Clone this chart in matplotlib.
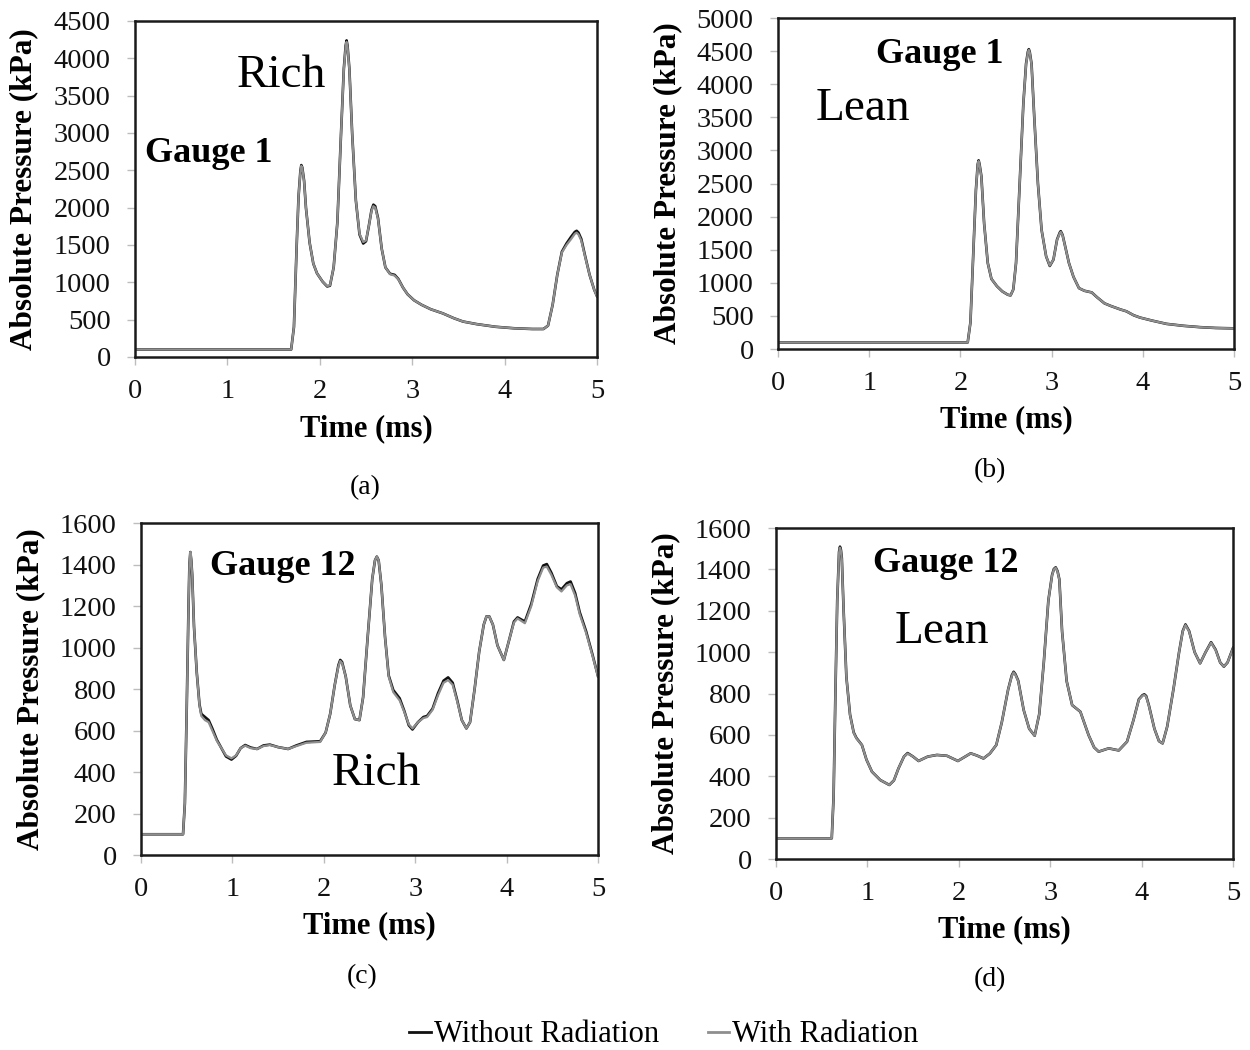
import matplotlib
matplotlib.use('Agg')
import matplotlib.pyplot as plt
from matplotlib.lines import Line2D

plt.rcParams['font.family'] = ['Liberation Serif', 'DejaVu Serif']

# Gauge 1, rich mixture
t_a = [0.00, 1.69, 1.72, 1.75, 1.77, 1.79, 1.80, 1.81, 1.83, 1.85, 1.89, 1.93, 1.97, 2.03,
       2.08, 2.11, 2.15, 2.19, 2.23, 2.26, 2.28, 2.29, 2.30, 2.32, 2.35, 2.39, 2.43, 2.47,
       2.50, 2.53, 2.56, 2.58, 2.60, 2.63, 2.67, 2.71, 2.76, 2.81, 2.85, 2.90, 2.95, 3.02,
       3.10, 3.20, 3.33, 3.45, 3.55, 3.70, 3.90, 4.10, 4.30, 4.42, 4.47, 4.52, 4.57, 4.62,
       4.67, 4.72, 4.76, 4.78, 4.80, 4.83, 4.87, 4.92, 4.97, 5.00]
p_a_with = [100, 100, 400, 1500, 2150, 2480, 2560, 2530, 2350, 2000, 1530, 1250, 1120, 1010,
            950, 960, 1200, 1800, 3000, 3850, 4150, 4220, 4150, 3850, 3000, 2100, 1650, 1540,
            1560, 1750, 1960, 2020, 2000, 1850, 1450, 1200, 1110, 1090, 1040, 930, 840, 760,
            700, 640, 585, 520, 475, 440, 405, 385, 375, 375, 420, 700, 1100, 1400,
            1500, 1580, 1650, 1665, 1640, 1560, 1350, 1100, 900, 810]
p_a_without = [100, 100, 400, 1500, 2150, 2490, 2570, 2540, 2360, 2000, 1530, 1250, 1120, 1010,
               945, 955, 1200, 1800, 3000, 3860, 4170, 4240, 4170, 3860, 3000, 2100, 1640, 1520,
               1550, 1750, 1970, 2040, 2020, 1860, 1450, 1200, 1115, 1100, 1045, 930, 840, 760,
               700, 640, 585, 520, 475, 440, 405, 385, 375, 375, 420, 700, 1100, 1410,
               1520, 1610, 1675, 1690, 1665, 1580, 1360, 1100, 900, 815]

# Gauge 1, lean mixture
t_b = [0.00, 2.08, 2.11, 2.14, 2.17, 2.19, 2.20, 2.21, 2.23, 2.26, 2.30, 2.34, 2.40, 2.46,
       2.52, 2.55, 2.58, 2.61, 2.65, 2.69, 2.72, 2.74, 2.75, 2.76, 2.78, 2.81, 2.85, 2.89,
       2.94, 2.98, 3.02, 3.06, 3.09, 3.10, 3.12, 3.14, 3.19, 3.24, 3.30, 3.36, 3.44, 3.50,
       3.58, 3.65, 3.75, 3.82, 3.90, 3.97, 4.10, 4.26, 4.45, 4.63, 4.80, 5.00]
p_b_with = [100, 100, 400, 1400, 2400, 2780, 2840, 2780, 2600, 1900, 1300, 1060, 950, 870,
            820, 810, 900, 1300, 2500, 3700, 4300, 4480, 4520, 4480, 4300, 3500, 2500, 1800,
            1400, 1260, 1350, 1650, 1750, 1770, 1720, 1600, 1300, 1090, 920, 880, 855, 780,
            690, 650, 600, 570, 510, 475, 430, 380, 350, 330, 318, 312]
p_b_without = [100, 100, 400, 1400, 2400, 2790, 2850, 2790, 2610, 1900, 1300, 1060, 950, 870,
               820, 810, 900, 1300, 2500, 3700, 4310, 4490, 4530, 4490, 4310, 3500, 2500, 1800,
               1400, 1255, 1350, 1655, 1760, 1780, 1725, 1605, 1300, 1090, 920, 880, 855, 780,
               690, 650, 600, 570, 510, 475, 430, 380, 350, 330, 318, 312]

# Gauge 12, rich mixture
t_c = [0.00, 0.46, 0.48, 0.50, 0.52, 0.53, 0.54, 0.55, 0.56, 0.58, 0.61, 0.64, 0.66, 0.70,
       0.74, 0.78, 0.83, 0.88, 0.93, 0.99, 1.04, 1.09, 1.14, 1.20, 1.27, 1.34, 1.41, 1.50,
       1.61, 1.70, 1.81, 1.96, 2.02, 2.07, 2.12, 2.16, 2.18, 2.20, 2.24, 2.29, 2.34, 2.39,
       2.43, 2.48, 2.53, 2.56, 2.58, 2.60, 2.63, 2.67, 2.71, 2.76, 2.83, 2.88, 2.93, 2.97,
       3.03, 3.09, 3.13, 3.19, 3.25, 3.31, 3.36, 3.41, 3.46, 3.51, 3.56, 3.60, 3.65, 3.70,
       3.75, 3.78, 3.81, 3.85, 3.90, 3.97, 4.03, 4.08, 4.12, 4.20, 4.27, 4.34, 4.40, 4.44,
       4.49, 4.55, 4.60, 4.66, 4.70, 4.75, 4.80, 4.87, 4.94, 5.00]
p_c_with = [100, 100, 250, 700, 1200, 1400, 1460, 1420, 1350, 1100, 880, 720, 670, 650,
            640, 600, 550, 515, 480, 466, 480, 515, 527, 515, 511, 525, 530, 520,
            511, 525, 541, 545, 590, 680, 820, 910, 935, 925, 860, 720, 655, 650,
            760, 1050, 1330, 1420, 1438, 1420, 1300, 1050, 860, 785, 745, 690, 630, 610,
            640, 660, 665, 700, 770, 830, 843, 820, 740, 650, 610, 640, 800, 980,
            1110, 1150, 1150, 1110, 1010, 940, 1040, 1120, 1140, 1117, 1200, 1320, 1385, 1390,
            1350, 1290, 1270, 1300, 1305, 1250, 1160, 1070, 960, 860]
p_c_without = [100, 100, 250, 700, 1200, 1400, 1460, 1420, 1350, 1100, 880, 725, 680, 665,
               650, 610, 555, 515, 475, 460, 478, 515, 530, 518, 511, 528, 532, 520,
               511, 528, 545, 548, 590, 680, 820, 915, 940, 930, 860, 720, 655, 650,
               760, 1050, 1330, 1420, 1438, 1420, 1300, 1050, 865, 795, 755, 695, 625, 605,
               640, 665, 670, 705, 780, 840, 856, 830, 745, 650, 610, 640, 800, 980,
               1110, 1150, 1150, 1110, 1010, 940, 1040, 1125, 1145, 1125, 1210, 1330, 1395, 1402,
               1360, 1295, 1280, 1310, 1318, 1262, 1170, 1078, 965, 862]

# Gauge 12, lean mixture
t_d = [0.00, 0.61, 0.63, 0.65, 0.67, 0.69, 0.70, 0.71, 0.72, 0.74, 0.77, 0.81, 0.85, 0.88,
       0.94, 0.99, 1.05, 1.14, 1.24, 1.29, 1.34, 1.40, 1.44, 1.50, 1.56, 1.66, 1.76, 1.87,
       1.99, 2.07, 2.13, 2.20, 2.27, 2.34, 2.41, 2.47, 2.54, 2.58, 2.60, 2.62, 2.65, 2.71,
       2.77, 2.83, 2.88, 2.93, 2.98, 3.02, 3.04, 3.06, 3.08, 3.10, 3.13, 3.18, 3.24, 3.33,
       3.42, 3.48, 3.53, 3.64, 3.75, 3.84, 3.91, 3.97, 4.01, 4.03, 4.05, 4.08, 4.14, 4.19,
       4.23, 4.28, 4.35, 4.41, 4.45, 4.48, 4.52, 4.58, 4.64, 4.70, 4.76, 4.81, 4.86, 4.90,
       4.94, 5.00]
p_d_with = [100, 100, 300, 800, 1250, 1480, 1505, 1490, 1450, 1200, 880, 696, 610, 583,
            551, 480, 422, 382, 358, 380, 438, 495, 510, 495, 474, 495, 503, 499,
            474, 495, 511, 500, 486, 510, 551, 660, 820, 885, 902, 890, 860, 720,
            630, 596, 700, 950, 1250, 1370, 1400, 1408, 1390, 1350, 1100, 860, 744, 712,
            599, 540, 519, 535, 525, 567, 670, 770, 790, 793, 785, 740, 630, 570,
            559, 640, 825, 1000, 1100, 1131, 1100, 1000, 946, 1000, 1046, 1010, 950, 930,
            950, 1018]
p_d_without = [100, 100, 300, 800, 1250, 1485, 1510, 1495, 1455, 1200, 880, 698, 612, 585,
               551, 480, 422, 382, 358, 380, 438, 495, 512, 495, 474, 495, 503, 499,
               474, 495, 511, 500, 486, 510, 551, 660, 820, 888, 905, 893, 862, 720,
               630, 596, 700, 950, 1250, 1372, 1402, 1410, 1392, 1352, 1100, 860, 744, 712,
               599, 540, 519, 535, 525, 567, 670, 772, 792, 796, 788, 742, 630, 570,
               559, 640, 825, 1000, 1102, 1134, 1102, 1000, 946, 1000, 1048, 1012, 950, 930,
               950, 1020]

panels = [
    # axes rect, x, without, with, ymax, ystep, caption, caption pos, texts
    ([0.108, 0.660, 0.3696, 0.320], t_a, p_a_without, p_a_with, 4500, 500, '(a)', (0.292, 0.536),
     [(0.11, 2616, 'Gauge 1', 26, 'bold'), (1.10, 3616, 'Rich', 34, 'normal')]),
    ([0.6224, 0.6676, 0.3648, 0.3152], t_b, p_b_without, p_b_with, 5000, 500, '(b)', (0.792, 0.552),
     [(1.07, 4316, 'Gauge 1', 26, 'bold'), (0.41, 3459, 'Lean', 34, 'normal')]),
    ([0.1128, 0.1857, 0.3656, 0.3162], t_c, p_c_without, p_c_with, 1600, 200, '(c)', (0.290, 0.070),
     [(0.75, 1349, 'Gauge 12', 26, 'bold'), (2.09, 337, 'Rich', 34, 'normal')]),
    ([0.6208, 0.1819, 0.3656, 0.3152], t_d, p_d_without, p_d_with, 1600, 200, '(d)', (0.792, 0.067),
     [(1.065, 1386, 'Gauge 12', 26, 'bold'), (1.30, 1043, 'Lean', 34, 'normal')]),
]

BLACK = '#111111'
GRAY = '#8e8e8e'

fig = plt.figure(figsize=(12.5, 10.5), dpi=100)

for rect, t, p_wo, p_w, ymax, ystep, cap, cap_pos, texts in panels:
    ax = fig.add_axes(rect)
    ax.plot(t, p_wo, color=BLACK, lw=1.9, solid_joinstyle='round')
    ax.plot(t, p_w, color=GRAY, lw=1.6, solid_joinstyle='round')
    ax.set_xlim(0, 5)
    ax.set_ylim(0, ymax)
    ax.set_xticks(range(0, 6))
    ax.set_yticks(range(0, ymax + 1, ystep))
    for s in ax.spines.values():
        s.set_color('#1a1a1a')
        s.set_linewidth(1.8)
    ax.tick_params(axis='both', direction='out', length=5.5, width=1.0, color='#bdbdbd',
                   labelsize=20.5, labelcolor='#111111')
    ax.tick_params(axis='y', pad=12)
    ax.tick_params(axis='x', pad=10)
    ax.set_xlabel('Time (ms)', fontsize=22, fontweight='bold')
    ax.set_ylabel('Absolute Pressure (kPa)', fontsize=22.5, fontweight='bold')
    ax.xaxis.set_label_coords(0.5, -0.17)
    ax.yaxis.set_label_coords(-0.21, 0.5)
    for x, y, s, fs, fw in texts:
        ax.text(x, y, s, fontsize=fs, fontweight=fw, ha='left', va='baseline')
    fig.text(cap_pos[0], cap_pos[1], cap, fontsize=20, ha='center', va='center')

handles = [Line2D([], [], color=BLACK, lw=2), Line2D([], [], color=GRAY, lw=2)]
fig.legend(handles, ['Without Radiation', 'With Radiation'], loc='center',
           bbox_to_anchor=(0.531, 0.0143), ncol=2, frameon=False, fontsize=22,
           handlelength=0.7, handletextpad=0.1, columnspacing=1.6)

fig.savefig('out.png', dpi=100)
